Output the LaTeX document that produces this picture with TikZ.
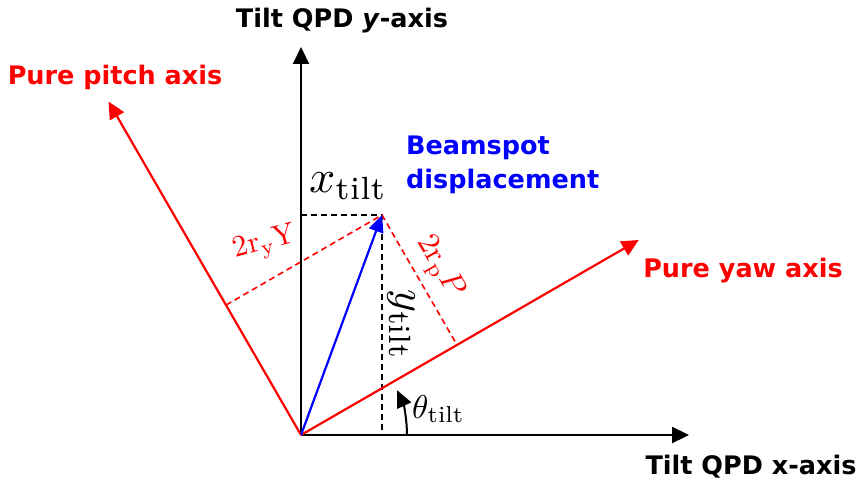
\documentclass[tikz,border=0pt]{standalone}
\usepackage{fontspec}
\newfontfamily\lblfont{DejaVu Sans}
\usetikzlibrary{arrows.meta,calc}
\tikzset{
  axisline/.style={line width=2.2pt,-{Triangle[length=17pt,width=16pt]}},
  helper/.style={line width=1.6pt,dash pattern=on 6pt off 4pt},
  title/.style={font=\lblfont\bfseries\fontsize{25.5}{30}\selectfont,inner sep=0pt,anchor=base},
  mlabel/.style={inner sep=0pt},
}
\begin{document}
\begin{tikzpicture}[x=1pt,y=-1pt]
\useasboundingbox (0,0) rectangle (856,481);
\coordinate (O) at (301,435);
\coordinate (ytip) at (301,47);
\coordinate (xtip) at (689,435);
\coordinate (yawtip) at ($(O)+(30:390pt)$);
\coordinate (pitchtip) at ($(O)+(120:385pt)$);
\coordinate (P) at (382,215);
\coordinate (ytop) at (301,215);
\coordinate (xbot) at (382,435);
\coordinate (yawfoot) at ($(O)!(P)!(yawtip)$);
\coordinate (pitchfoot) at ($(O)!(P)!(pitchtip)$);
% dashed helpers
\draw[helper,black] (ytop) -- (P) -- (xbot);
\draw[helper,red] (pitchfoot) -- (P) -- (yawfoot);
% axes
\draw[axisline,black] (O) -- (ytip);
\draw[axisline,black] (O) -- (xtip);
\draw[axisline,red] (O) -- (yawtip);
\draw[axisline,red] (O) -- (pitchtip);
% beamspot vector
\draw[line width=2.2pt,blue,-{Triangle[length=17pt,width=15pt]}] (O) -- (P);
% theta arc
\draw[line width=2pt,black,-{Triangle[length=17pt,width=15pt]}] ($(O)+(0:106pt)$) arc[start angle=0,end angle=25,radius=106pt];
% titles
\node[title] (ylab) at (342,28) {Tilt QPD \textit{y}-axis};
\node[title] (xlab) at (751,474) {Tilt QPD x-axis};
\node[title,red] (pitchlab) at (115,85) {Pure pitch axis};
\node[title,red] (yawlab) at (743,277) {Pure yaw axis};
\node[title,blue,anchor=base west] (beam1) at (406,155) {Beamspot};
\node[title,blue,anchor=base west] (beam2) at (406,189) {displacement};
% math labels
\node[mlabel,anchor=base west] (xt) at (309,193) {\scalebox{4.6}{$x_{\mathrm{tilt}}$}};
\node[mlabel,rotate=-90] (yt) at (401,325) {\scalebox{4.4}{$y_{\mathrm{tilt}}$}};
\node[mlabel,anchor=base west] (th) at (412,418) {\scalebox{3.3}{$\theta_{\mathrm{tilt}}$}};
\node[mlabel,red,rotate=15] (ry) at (265,244) {\scalebox{3.0}{$\mathrm{2r_yY}$}};
\node[mlabel,red,rotate=-60] (rp) at (439,267) {\scalebox{3.1}{$2\mathrm{r_p}P$}};
\end{tikzpicture}
\end{document}
